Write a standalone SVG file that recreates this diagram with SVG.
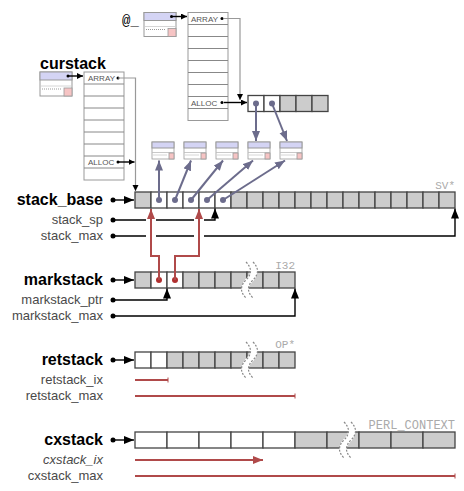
<svg xmlns="http://www.w3.org/2000/svg" width="464" height="491" viewBox="0 0 464 491">
<style>
.lb{font:bold 16px "Liberation Sans",Arial,sans-serif;fill:#000;text-anchor:end}
.lt{font:13px "Liberation Sans",Arial,sans-serif;fill:#4a4a4a;text-anchor:end}
.it{font-style:italic}
.mono{font:11px "Liberation Mono","Courier New",monospace;fill:#aaa;text-anchor:end}
.sm{font:8px "Liberation Sans",Arial,sans-serif;fill:#555}
.g{fill:#ccc;stroke:#444;stroke-width:1.3}
.w{fill:#fff;stroke:#444;stroke-width:1.3}
.col{fill:#fff;stroke:#999;stroke-width:1}
.rowl{stroke:#888;stroke-width:1}
.blk{fill:none;stroke:#000;stroke-width:1.4}
.gry{fill:none;stroke:#999;stroke-width:1.2}
.red{fill:none;stroke:#b04a4a;stroke-width:2}
.sl{fill:none;stroke:#6c6c8c;stroke-width:2}
.lav{fill:#d4d4f4;stroke:#999;stroke-width:1}
.pk{fill:#f6c4c4;stroke:#999;stroke-width:0.8}
</style>
<defs>
<marker id="ab" markerUnits="userSpaceOnUse" markerWidth="11" markerHeight="9" refX="10" refY="4" orient="auto"><path d="M0,0 L10,4 L0,8 z" fill="#000"/></marker>
<marker id="abs" markerUnits="userSpaceOnUse" markerWidth="8" markerHeight="7" refX="6" refY="3" orient="auto"><path d="M0,0 L6,3 L0,6 z" fill="#000"/></marker>
<marker id="ar" markerUnits="userSpaceOnUse" markerWidth="11" markerHeight="9" refX="10" refY="4" orient="auto"><path d="M0,0 L10,4 L0,8 z" fill="#b04a4a"/></marker>
<marker id="as" markerUnits="userSpaceOnUse" markerWidth="11" markerHeight="9" refX="10" refY="4" orient="auto"><path d="M0,0 L10,4 L0,8 z" fill="#6c6c8c"/></marker>
<g id="sv">
<rect x="0" y="0" width="22" height="17" fill="#fff" stroke="#999" stroke-width="0.8"/>
<rect x="0" y="0" width="22" height="6" class="lav" stroke-width="0.8"/>
<line x1="0" y1="10.5" x2="22" y2="10.5" stroke="#bbb" stroke-width="0.8"/>
<line x1="1.5" y1="13" x2="15" y2="13" stroke="#999" stroke-width="0.8" stroke-dasharray="1 1"/>
<rect x="17" y="11" width="5" height="6" class="pk"/>
</g>
<g id="av">
<rect x="0" y="0" width="32" height="24" fill="#fff" stroke="#999" stroke-width="1"/>
<rect x="0" y="0" width="32" height="8" class="lav"/>
<line x1="0" y1="14" x2="32" y2="14" stroke="#ccc" stroke-width="0.8"/>
<line x1="2" y1="17" x2="22" y2="17" stroke="#999" stroke-width="1" stroke-dasharray="1 1"/>
<rect x="24" y="16" width="8" height="8" class="pk"/>
</g>
<g id="brk">
<path d="M3.5,0 C9.5,6 9.5,12 3.5,18 S-2.5,30 3.5,36" fill="none" stroke="#fff" stroke-width="7"/>
<path d="M0,0 C6,6 6,12 0,18 S-6,30 0,36" fill="none" stroke="#888" stroke-width="1.2" stroke-dasharray="2 1.5"/>
<path d="M7,0 C13,6 13,12 7,18 S1,30 7,36" fill="none" stroke="#888" stroke-width="1.2" stroke-dasharray="2 1.5"/>
</g>
</defs>

<!-- @_ AV and its array -->
<g id="av_args">
<text x="122" y="25" style="font:14px 'Liberation Mono','Courier New',monospace;fill:#000">@_</text>
<use href="#av" x="144" y="12.5"/>
<circle cx="171.5" cy="16.5" r="1.5" fill="#000"/>
</g>
<g id="args_array">
<rect x="188" y="12.5" width="40" height="108" class="col"/>
<g class="rowl">
<line x1="188" y1="24.5" x2="228" y2="24.5"/><line x1="188" y1="36.5" x2="228" y2="36.5"/>
<line x1="188" y1="48.5" x2="228" y2="48.5"/><line x1="188" y1="60.5" x2="228" y2="60.5"/>
<line x1="188" y1="72.5" x2="228" y2="72.5"/><line x1="188" y1="84.5" x2="228" y2="84.5"/>
<line x1="188" y1="96.5" x2="228" y2="96.5"/><line x1="188" y1="108.5" x2="228" y2="108.5"/>
</g>
<text x="191" y="21.5" class="sm">ARRAY</text>
<circle cx="222" cy="18.5" r="1.5" fill="#000"/>
<text x="191" y="105.5" class="sm">ALLOC</text>
<circle cx="222" cy="102.5" r="1.5" fill="#000"/>
</g>
<g id="args_buf">
<rect x="248" y="95.5" width="16" height="16" class="w"/>
<rect x="264" y="95.5" width="16" height="16" class="w"/>
<rect x="280" y="95.5" width="16" height="16" class="g"/>
<rect x="296" y="95.5" width="16" height="16" class="g"/>
<rect x="312" y="95.5" width="16" height="16" class="g"/>
<circle cx="256" cy="103.5" r="3" fill="#6c6c8c"/>
<circle cx="272" cy="103.5" r="3" fill="#6c6c8c"/>
</g>

<!-- curstack -->
<g id="curstack">
<text x="40" y="69" style="font:bold 16px 'Liberation Sans',Arial,sans-serif;fill:#000">curstack</text>
<use href="#av" x="40" y="72"/>
<circle cx="68" cy="76" r="1.5" fill="#000"/>
</g>
<g id="cur_array">
<rect x="84" y="72" width="40" height="108" class="col"/>
<g class="rowl">
<line x1="84" y1="84" x2="124" y2="84"/><line x1="84" y1="96" x2="124" y2="96"/>
<line x1="84" y1="108" x2="124" y2="108"/><line x1="84" y1="120" x2="124" y2="120"/>
<line x1="84" y1="132" x2="124" y2="132"/><line x1="84" y1="144" x2="124" y2="144"/>
<line x1="84" y1="156" x2="124" y2="156"/><line x1="84" y1="168" x2="124" y2="168"/>
</g>
<text x="88" y="81" class="sm">ARRAY</text>
<circle cx="118" cy="78" r="1.5" fill="#000"/>
<text x="88" y="165" class="sm">ALLOC</text>
<circle cx="118" cy="162" r="1.5" fill="#000"/>
</g>

<!-- SV boxes -->
<g id="sv1"><use href="#sv" x="152" y="142"/></g>
<g id="sv2"><use href="#sv" x="184" y="142"/></g>
<g id="sv3"><use href="#sv" x="216" y="142"/></g>
<g id="sv4"><use href="#sv" x="248" y="142"/></g>
<g id="sv5"><use href="#sv" x="280" y="142"/></g>

<!-- stack_base -->
<g id="stack_base">
<text x="103" y="205" class="lb">stack_base</text>
<rect x="135" y="192" width="16" height="16" class="g"/>
<rect x="151" y="192" width="16" height="16" class="w"/>
<rect x="167" y="192" width="16" height="16" class="w"/>
<rect x="183" y="192" width="16" height="16" class="w"/>
<rect x="199" y="192" width="16" height="16" class="w"/>
<rect x="215" y="192" width="16" height="16" class="w"/>
<rect x="231" y="192" width="16" height="16" class="g"/>
<rect x="247" y="192" width="16" height="16" class="g"/>
<rect x="263" y="192" width="16" height="16" class="g"/>
<rect x="279" y="192" width="16" height="16" class="g"/>
<rect x="295" y="192" width="16" height="16" class="g"/>
<rect x="311" y="192" width="16" height="16" class="g"/>
<rect x="327" y="192" width="16" height="16" class="g"/>
<rect x="343" y="192" width="16" height="16" class="g"/>
<rect x="359" y="192" width="16" height="16" class="g"/>
<rect x="375" y="192" width="16" height="16" class="g"/>
<rect x="391" y="192" width="16" height="16" class="g"/>
<rect x="407" y="192" width="16" height="16" class="g"/>
<rect x="423" y="192" width="16" height="16" class="g"/>
<rect x="439" y="192" width="16" height="16" class="g"/>
<text x="455" y="189" class="mono">SV*</text>
<circle cx="159" cy="200" r="3" fill="#6c6c8c"/>
<circle cx="175" cy="200" r="3" fill="#6c6c8c"/>
<circle cx="191" cy="200" r="3" fill="#6c6c8c"/>
<circle cx="207" cy="200" r="3" fill="#6c6c8c"/>
<circle cx="223" cy="200" r="3" fill="#6c6c8c"/>
</g>
<g id="stack_sp_lbl"><text x="103" y="224" class="lt">stack_sp</text></g>
<g id="stack_max_lbl"><text x="103" y="240" class="lt">stack_max</text></g>

<!-- markstack -->
<g id="markstack">
<text x="103" y="285" class="lb">markstack</text>
<rect x="135" y="272" width="16" height="16" class="g"/>
<rect x="151" y="272" width="16" height="16" class="w"/>
<rect x="167" y="272" width="16" height="16" class="w"/>
<rect x="183" y="272" width="16" height="16" class="g"/>
<rect x="199" y="272" width="16" height="16" class="g"/>
<rect x="215" y="272" width="16" height="16" class="g"/>
<rect x="231" y="272" width="16" height="16" class="g"/>
<rect x="247" y="272" width="16" height="16" class="g"/>
<rect x="263" y="272" width="16" height="16" class="g"/>
<rect x="279" y="272" width="16" height="16" class="g"/>
<use href="#brk" x="246" y="262"/>
<text x="295" y="269" class="mono">I32</text>
<circle cx="159" cy="280" r="3" fill="#b03030"/>
<circle cx="175" cy="280" r="3" fill="#b03030"/>
</g>
<g id="markstack_ptr_lbl"><text x="103" y="304" class="lt">markstack_ptr</text></g>
<g id="markstack_max_lbl"><text x="103" y="320" class="lt">markstack_max</text></g>

<!-- retstack -->
<g id="retstack">
<text x="103" y="364.5" class="lb">retstack</text>
<rect x="135" y="352" width="16" height="16" class="w"/>
<rect x="151" y="352" width="16" height="16" class="w"/>
<rect x="167" y="352" width="16" height="16" class="g"/>
<rect x="183" y="352" width="16" height="16" class="g"/>
<rect x="199" y="352" width="16" height="16" class="g"/>
<rect x="215" y="352" width="16" height="16" class="g"/>
<rect x="231" y="352" width="16" height="16" class="g"/>
<rect x="247" y="352" width="16" height="16" class="g"/>
<rect x="263" y="352" width="16" height="16" class="g"/>
<rect x="279" y="352" width="16" height="16" class="g"/>
<use href="#brk" x="246" y="342"/>
<text x="295" y="348" class="mono">OP*</text>
</g>
<g id="retstack_ix_lbl"><text x="103" y="384" class="lt">retstack_ix</text></g>
<g id="retstack_max_lbl"><text x="103" y="400" class="lt">retstack_max</text></g>

<!-- cxstack -->
<g id="cxstack">
<text x="103" y="445" class="lb">cxstack</text>
<rect x="135" y="432" width="32" height="16" class="w"/>
<rect x="167" y="432" width="32" height="16" class="w"/>
<rect x="199" y="432" width="32" height="16" class="w"/>
<rect x="231" y="432" width="32" height="16" class="w"/>
<rect x="263" y="432" width="32" height="16" class="w"/>
<rect x="295" y="432" width="32" height="16" class="g"/>
<rect x="327" y="432" width="32" height="16" class="g"/>
<rect x="359" y="432" width="32" height="16" class="g"/>
<rect x="391" y="432" width="32" height="16" class="g"/>
<rect x="423" y="432" width="32" height="16" class="g"/>
<use href="#brk" x="344" y="422"/>
<text x="455" y="429" style="font:12px 'Liberation Mono','Courier New',monospace;fill:#aaa;text-anchor:end">PERL_CONTEXT</text>
</g>
<g id="cxstack_ix_lbl"><text x="103" y="463.5" class="lt it">cxstack_ix</text></g>
<g id="cxstack_max_lbl"><text x="103" y="480" class="lt">cxstack_max</text></g>

<!-- connectors -->
<g id="connectors">
<path d="M172,16.5 H187" class="blk" stroke-width="1" marker-end="url(#abs)"/>
<path d="M224,18.5 H240 V100" class="gry" marker-end="url(#abs)"/>
<path d="M224,102.5 H247" class="blk" stroke-width="1" marker-end="url(#abs)"/>
<path d="M68,76 H83" class="blk" stroke-width="1" marker-end="url(#abs)"/>
<path d="M118,78 H135.5 V191" class="gry" marker-end="url(#abs)"/>
<path d="M118,162 H134.5" class="blk" stroke-width="1" marker-end="url(#abs)"/>

<path d="M256,103.5 V141" class="sl" marker-end="url(#as)"/>
<path d="M272,103.5 L287,141" class="sl" marker-end="url(#as)"/>
<path d="M159,200 V160.5" class="sl" marker-end="url(#as)"/>
<path d="M175,200 L191,160.5" class="sl" marker-end="url(#as)"/>
<path d="M191,200 L223,160.5" class="sl" marker-end="url(#as)"/>
<path d="M207,200 L253,160.5" class="sl" marker-end="url(#as)"/>
<path d="M223,200 L285,160.5" class="sl" marker-end="url(#as)"/>

<circle cx="113" cy="200" r="2.5"/><path d="M113,200 H134" class="blk" marker-end="url(#ab)"/>
<circle cx="113" cy="220" r="2.5"/><path d="M113,220 H215 V208.5" class="blk" marker-end="url(#ab)"/>
<circle cx="113" cy="236" r="2.5"/><path d="M113,236 H455 V208.5" class="blk" marker-end="url(#ab)"/>
<circle cx="113" cy="280" r="2.5"/><path d="M113,280 H134" class="blk" marker-end="url(#ab)"/>
<circle cx="113" cy="300" r="2.5"/><path d="M113,300 H167 V288.5" class="blk" marker-end="url(#ab)"/>
<circle cx="113" cy="316" r="2.5"/><path d="M113,316 H295 V288.5" class="blk" marker-end="url(#ab)"/>
<circle cx="113" cy="360" r="2.5"/><path d="M113,360 H134" class="blk" marker-end="url(#ab)"/>
<circle cx="113" cy="440" r="2.5"/><path d="M113,440 H134" class="blk" marker-end="url(#ab)"/>

<g fill="#fff">
<rect x="146" y="218" width="10" height="4"/><rect x="194" y="218" width="10" height="4"/>
<rect x="146" y="234" width="10" height="4"/><rect x="194" y="234" width="10" height="4"/>
</g>
<path d="M159,280 V256 H151 V209" class="red" marker-end="url(#ar)"/>
<path d="M175,280 V256 H199 V209" class="red" marker-end="url(#ar)"/>

<path d="M135,380 H168" class="red"/>
<path d="M168,377.5 V382.5" stroke="#b04a4a" stroke-width="1"/>
<path d="M135,396 H295" class="red"/>
<path d="M295,393.5 V398.5" stroke="#b04a4a" stroke-width="1"/>
<path d="M135,460 H263" class="red" marker-end="url(#ar)"/>
<path d="M135,476 H455" class="red"/>
<path d="M455,473.5 V478.5" stroke="#b04a4a" stroke-width="1"/>
</g>
</svg>
